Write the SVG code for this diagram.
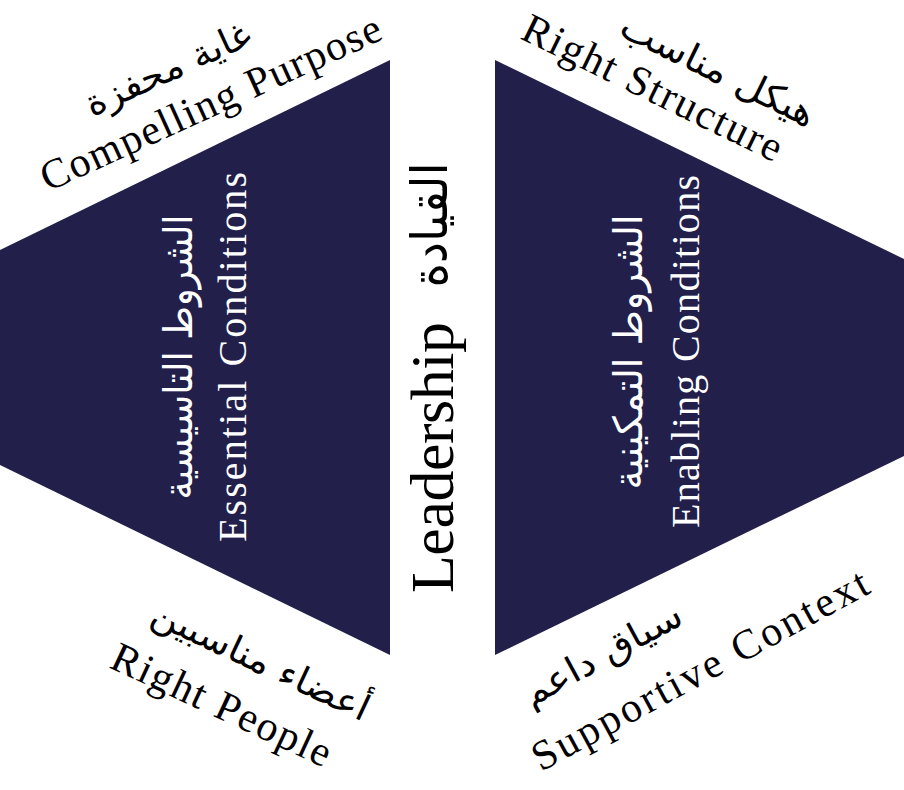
<svg xmlns="http://www.w3.org/2000/svg" width="904" height="790" viewBox="0 0 904 790">
  <style>
    .tri { fill: #22204b; }
    .en { font-family: "Liberation Serif", "Times New Roman", serif; }
    .ar { font-family: "DejaVu Sans", "Noto Sans", sans-serif; }
    .dark { fill: #000000; }
    .light { fill: #ffffff; }
  </style>
  <rect x="0" y="0" width="904" height="790" fill="#ffffff"/>
  <g id="connectors"></g>

  <g id="essential-conditions">
    <polygon class="tri" points="390,60 390,655 0,465 0,250"/>
    <text class="en light" font-size="40" transform="translate(246,542) rotate(-90)" textLength="370" lengthAdjust="spacing">Essential Conditions</text>
    <text class="ar light" font-size="40" direction="rtl" text-anchor="middle" transform="translate(192,357) rotate(-90)" textLength="285" lengthAdjust="spacingAndGlyphs">الشروط التاسيسية</text>
  </g>

  <g id="enabling-conditions">
    <polygon class="tri" points="495,60 495,655 904,456 904,259"/>
    <text class="en light" font-size="40" transform="translate(699,528) rotate(-90)" textLength="353" lengthAdjust="spacing">Enabling Conditions</text>
    <text class="ar light" font-size="40" direction="rtl" text-anchor="middle" transform="translate(642,352) rotate(-90)" textLength="275" lengthAdjust="spacingAndGlyphs">الشروط التمكينية</text>
  </g>

  <g id="leadership">
    <text class="en dark" font-size="62" transform="translate(453,593) rotate(-90)" textLength="271" lengthAdjust="spacing">Leadership</text>
    <text class="ar dark" font-size="50" direction="rtl" text-anchor="middle" transform="translate(447,225) rotate(-90)" textLength="125" lengthAdjust="spacingAndGlyphs">القيادة</text>
  </g>

  <g id="compelling-purpose" transform="translate(48,192) rotate(-24.5)">
    <text class="en dark" font-size="42" x="0" y="0" textLength="370" lengthAdjust="spacing">Compelling Purpose</text>
    <text class="ar dark" font-size="36" direction="rtl" text-anchor="middle" x="160" y="-50" textLength="178" lengthAdjust="spacingAndGlyphs">غاية محفزة</text>
  </g>

  <g id="right-structure" transform="translate(519,38) rotate(26)">
    <text class="en dark" font-size="42" x="0" y="0" textLength="284" lengthAdjust="spacing">Right Structure</text>
    <text class="ar dark" font-size="37" direction="rtl" text-anchor="middle" x="193" y="-46" textLength="212" lengthAdjust="spacingAndGlyphs">هيكل مناسب</text>
  </g>

  <g id="right-people" transform="translate(108,667) rotate(25)">
    <text class="en dark" font-size="42" x="0" y="0" textLength="238" lengthAdjust="spacing">Right People</text>
    <text class="ar dark" font-size="36" direction="rtl" text-anchor="middle" x="136" y="-58" textLength="236" lengthAdjust="spacingAndGlyphs">أعضاء مناسبين</text>
  </g>

  <g id="supportive-context" transform="translate(541,772) rotate(-28.5)">
    <text class="en dark" font-size="42" x="0" y="0" textLength="377" lengthAdjust="spacing">Supportive Context</text>
    <text class="ar dark" font-size="36" direction="rtl" text-anchor="middle" x="110" y="-62" textLength="176" lengthAdjust="spacingAndGlyphs">سياق داعم</text>
  </g>
</svg>
